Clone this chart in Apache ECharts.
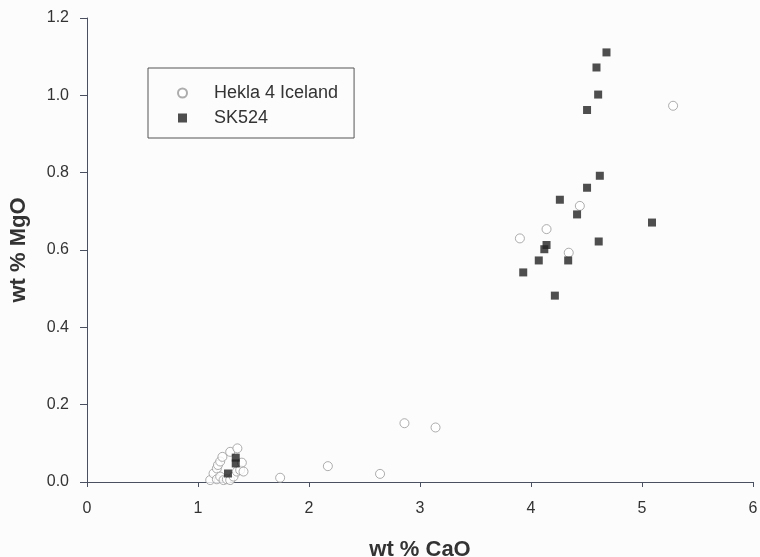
<!DOCTYPE html>
<html>
<head>
<meta charset="utf-8">
<script src="https://cdn.jsdelivr.net/npm/echarts@6/dist/echarts.min.js"></script>
<style>
  html, body { margin: 0; padding: 0; background: #fcfcfc; }
  #chart { width: 760px; height: 557px; }
</style>
</head>
<body>
<div id="chart"></div>
<script>
// CaO vs MgO (wt %)
const heklaPoints = [
  [1.11, 0.005], [1.14, 0.022], [1.17, 0.035], [1.17, 0.007], [1.18, 0.044],
  [1.20, 0.053], [1.20, 0.014], [1.22, 0.065], [1.23, 0.005], [1.26, 0.007],
  [1.29, 0.078], [1.29, 0.005], [1.32, 0.014], [1.35, 0.027], [1.355, 0.087],
  [1.38, 0.031], [1.395, 0.050], [1.41, 0.027],
  [1.74, 0.011], [2.17, 0.041], [2.64, 0.021], [2.86, 0.152], [3.14, 0.141],
  [3.90, 0.630], [4.14, 0.654], [4.34, 0.593], [4.44, 0.714], [5.28, 0.973]
];
const sk524Points = [
  [1.27, 0.022], [1.34, 0.048], [1.34, 0.063],
  [3.93, 0.542], [4.07, 0.573], [4.12, 0.602], [4.14, 0.613], [4.215, 0.482],
  [4.26, 0.730], [4.335, 0.573], [4.415, 0.692], [4.505, 0.761], [4.505, 0.962],
  [4.59, 1.072], [4.605, 1.002], [4.61, 0.622], [4.62, 0.792], [4.68, 1.111],
  [5.09, 0.671]
];
const seriesNames = ['Hekla 4 Iceland', 'SK524'];

const chart = echarts.init(document.getElementById('chart'));
const axisColor = '#4a5060';
const font = 'Liberation Sans, Arial, sans-serif';

chart.setOption({
  backgroundColor: '#fcfcfc',
  animation: false,
  textStyle: { fontFamily: font },
  grid: { left: 87, right: 7, top: 18, bottom: 75, containLabel: false, outerBoundsMode: 'none' },
  legend: {
    data: seriesNames,
    orient: 'vertical',
    left: 148,
    top: 68,
    padding: [16, 16, 11, 29],
    itemGap: 7,
    itemWidth: 9,
    itemHeight: 9,
    borderColor: '#555',
    borderWidth: 1,
    textStyle: { fontSize: 18, color: '#333', padding: [0, 0, 0, 22], fontFamily: font }
  },
  xAxis: {
    type: 'value',
    min: 0,
    max: 6,
    interval: 1,
    name: 'wt % CaO',
    nameLocation: 'middle',
    nameGap: 57,
    nameTextStyle: { fontSize: 22, fontWeight: 'bold', color: '#333' },
    axisLine: { lineStyle: { color: axisColor } },
    axisTick: { length: 5, lineStyle: { color: axisColor } },
    axisLabel: { fontSize: 16, color: '#333', margin: 19 },
    splitLine: { show: false }
  },
  yAxis: {
    type: 'value',
    min: 0,
    max: 1.2,
    interval: 0.2,
    name: 'wt % MgO',
    nameLocation: 'middle',
    nameGap: 57,
    nameTextStyle: { fontSize: 22, fontWeight: 'bold', color: '#333' },
    axisLine: { show: true, lineStyle: { color: axisColor } },
    axisTick: { show: true, length: 7, lineStyle: { color: axisColor } },
    axisLabel: { fontSize: 16, color: '#333', margin: 18, formatter: v => v.toFixed(1) },
    splitLine: { show: false }
  },
  series: [
    {
      name: seriesNames[0],
      type: 'scatter',
      symbol: 'circle',
      symbolSize: 9,
      data: heklaPoints,
      itemStyle: { color: '#ffffff', borderColor: '#999', borderWidth: 1 },
      z: 2
    },
    {
      name: seriesNames[1],
      type: 'scatter',
      symbol: 'rect',
      symbolSize: 8,
      data: sk524Points,
      itemStyle: { color: '#222' },
      z: 3
    }
  ]
});
</script>
</body>
</html>
